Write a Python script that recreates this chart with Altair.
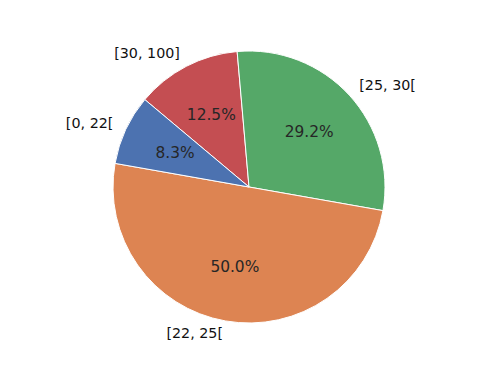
import math
import altair as alt
import pandas as pd

categories = ["[30, 100]", "[25, 30[", "[22, 25[", "[0, 22["]
counts = [3, 7, 12, 2]
colors = ["#C44E52", "#55A868", "#DD8452", "#4C72B0"]
sides = ["left", "right", "left", "left"]

total = sum(counts)
df = pd.DataFrame({
    "category": categories,
    "count": counts,
    "order": list(range(len(categories))),
    "side": sides,
    "pct": [f"{100 * c / total:.1f}%" for c in counts],
})

start = math.radians(310)
theta_scale = alt.Scale(range=[start, start + 2 * math.pi])
R = 136

base = alt.Chart(df).encode(
    theta=alt.Theta("count:Q", stack=True, scale=theta_scale),
    order=alt.Order("order:Q"),
)

arcs = base.mark_arc(radius=R, stroke="white", strokeWidth=1).encode(
    color=alt.Color("category:N", scale=alt.Scale(domain=categories, range=colors), legend=None)
)

pct = base.mark_text(radius=R * 0.6, fontSize=15.4, font="DejaVu Sans", color="#262626").encode(
    text="pct:N"
)

lab_left = base.mark_text(radius=R * 1.1, fontSize=14.3, font="DejaVu Sans", color="#111111",
                          align="right", baseline="middle").encode(
    text=alt.condition("datum.side == 'left'", alt.Text("category:N"), alt.value(""))
)
lab_right = base.mark_text(radius=R * 1.1, fontSize=14.3, font="DejaVu Sans", color="#111111",
                           align="left", baseline="middle").encode(
    text=alt.condition("datum.side == 'right'", alt.Text("category:N"), alt.value(""))
)

chart = alt.layer(arcs, pct, lab_left, lab_right).properties(
    width=482, height=358,
    autosize=alt.AutoSizeParams(type="fit", contains="padding"),
    padding=0,
).configure_view(stroke=None)

chart.save("out.html", embed_options={"renderer": "svg", "actions": False})
